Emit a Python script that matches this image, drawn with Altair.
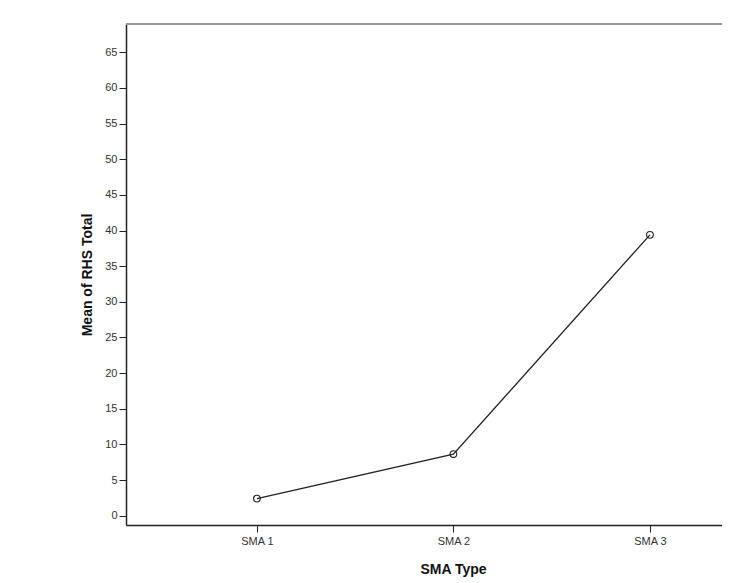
import altair as alt
import pandas as pd

categories = ["SMA 1", "SMA 2", "SMA 3"]
means = [2.4, 8.65, 39.4]
y_ticks = list(range(0, 70, 5))

df = pd.DataFrame({"type": categories, "mean": means})

W, H = 596, 501
FONT = "Liberation Sans"

x = alt.X(
    "type:N",
    sort=categories,
    scale=alt.Scale(type="point", padding=0.5165, align=0.645),
    axis=alt.Axis(
        title="SMA Type",
        labelAngle=0,
        labelFontSize=11,
        labelColor="#333333",
        labelPadding=3,
        tickSize=7,
        tickColor="#222222",
        domainColor="#222222",
        domainWidth=1.5,
        titleFontSize=14,
        titleFontWeight="bold",
        titleColor="#111111",
        titleX=327,
        titleY=37,
        titleAlign="center",
        titleBaseline="top",
        grid=False,
    ),
)
y = alt.Y(
    "mean:Q",
    scale=alt.Scale(domain=[-1.3, 68.97], nice=False, zero=False),
    axis=alt.Axis(
        title="Mean of RHS Total",
        values=y_ticks,
        labelFontSize=11,
        labelColor="#333333",
        labelPadding=2,
        tickSize=7,
        tickColor="#222222",
        domainColor="#222222",
        domainWidth=1.5,
        titleFontSize=14,
        titleFontWeight="bold",
        titleColor="#111111",
        titlePadding=10,
        grid=False,
    ),
)

line = alt.Chart(df).mark_line(color="#222222", strokeWidth=1.3).encode(x=x, y=y)
pts = alt.Chart(df).mark_point(
    shape="circle", size=45, filled=False, color="#222222", strokeWidth=1.1, opacity=1
).encode(x=x, y=y)
top = alt.Chart(df).mark_rule(color="#999999", strokeWidth=2).encode(
    x=alt.value(0), x2=alt.value(W), y=alt.value(0)
)

chart = (
    alt.layer(line, pts, top)
    .properties(
        width=W,
        height=H,
        autosize=alt.AutoSizeParams(type="none"),
        padding={"left": 118, "top": 16, "right": 0, "bottom": 56},
    )
    .configure_view(stroke=None)
    .configure_axis(labelFont=FONT, titleFont=FONT)
)

chart.save("out.html", embed_options={"renderer": "svg", "actions": False})
